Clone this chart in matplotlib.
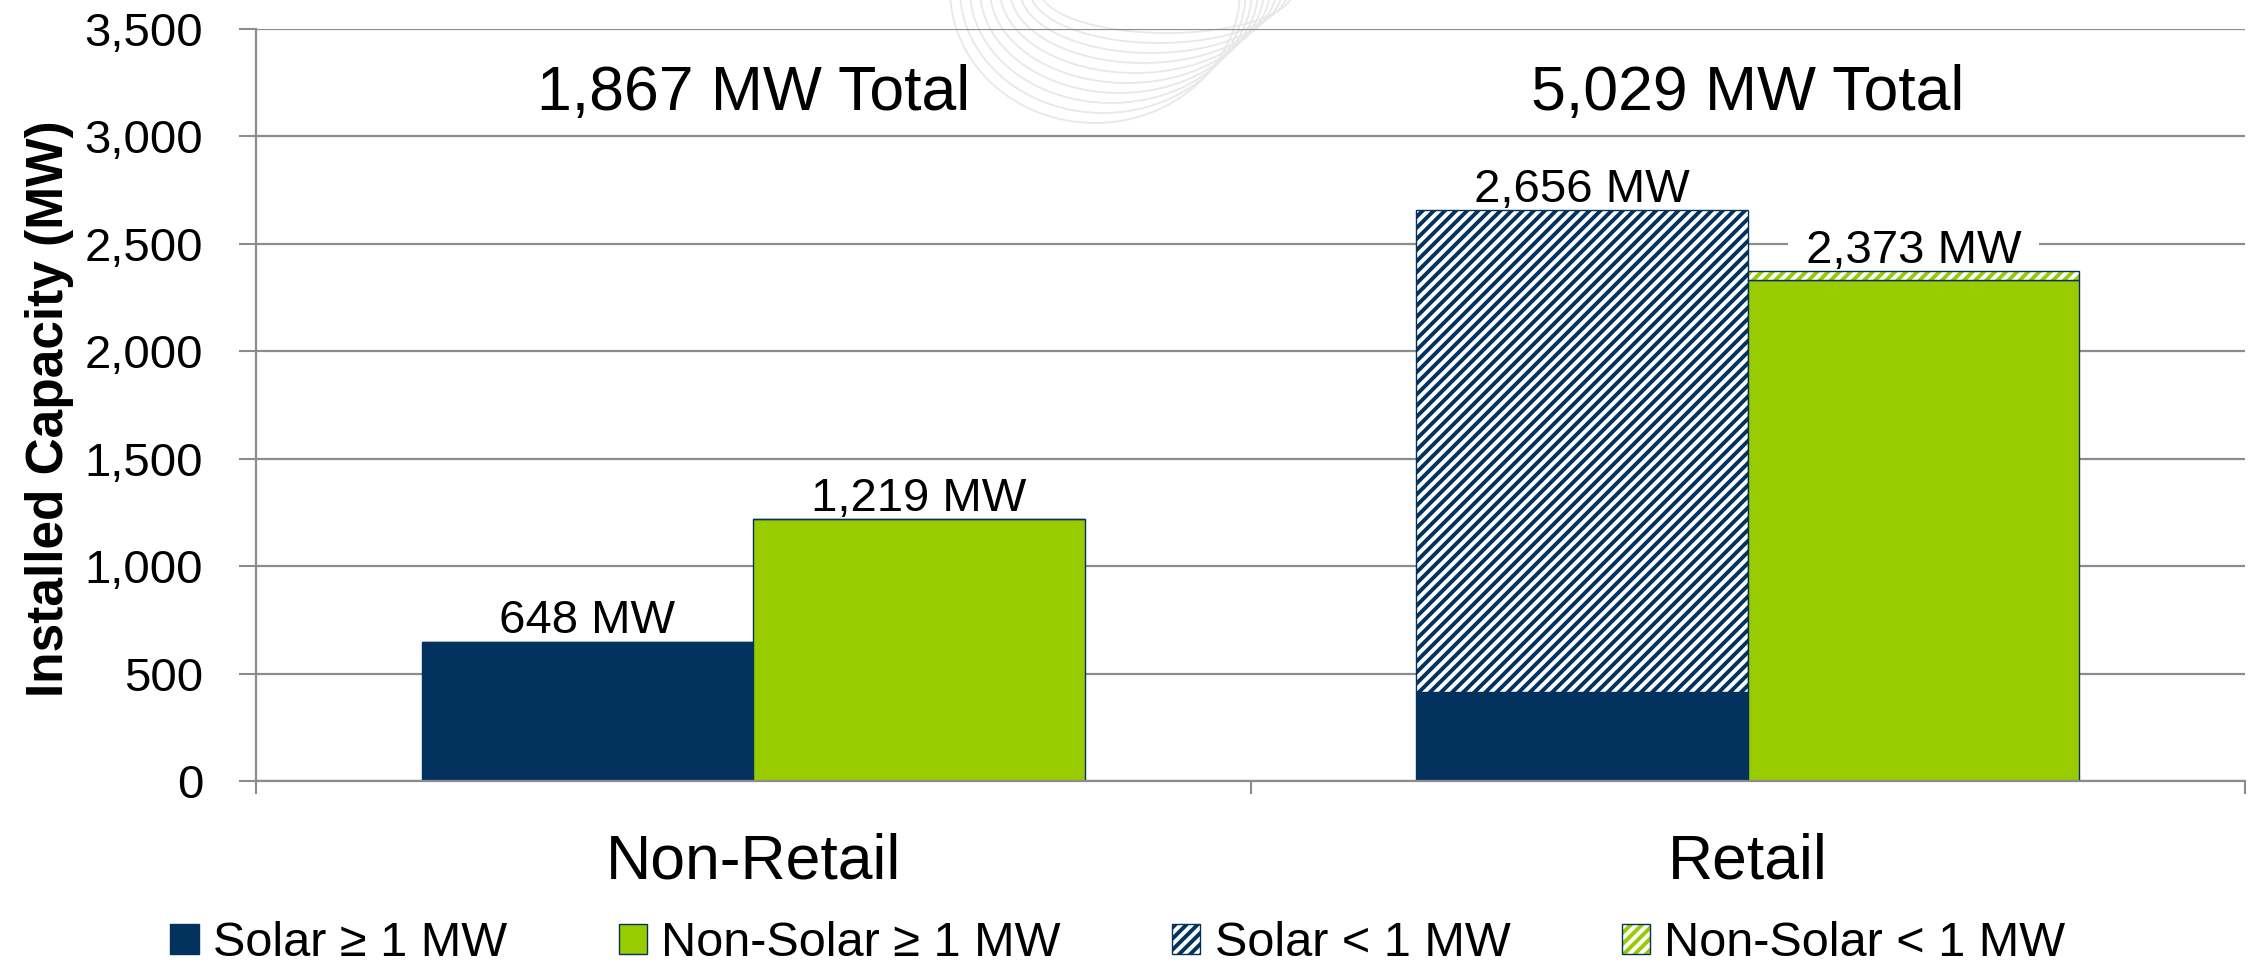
import matplotlib
matplotlib.use('Agg')
import matplotlib.pyplot as plt
from matplotlib.patches import Patch, Arc
import numpy as np

# ---------------- data ----------------
categories = ['Non-Retail', 'Retail']
solar_ge1 = [648, 414]
solar_lt1 = [0, 2242]
nonsolar_ge1 = [1219, 2330]
nonsolar_lt1 = [0, 43]
solar_labels = ['648 MW', '2,656 MW']
nonsolar_labels = ['1,219 MW', '2,373 MW']
total_labels = ['1,867 MW Total', '5,029 MW Total']
total_label_y = 3122
yticks = [0, 500, 1000, 1500, 2000, 2500, 3000, 3500]
ytick_labels = ['0', '500', '1,000', '1,500', '2,000', '2,500', '3,000', '3,500']
legend_labels = ['Solar \u2265 1 MW', 'Non-Solar \u2265 1 MW', 'Solar < 1 MW', 'Non-Solar < 1 MW']
ylabel = 'Installed Capacity (MW)'

# ---------------- style ----------------
NAVY = '#03325f'
GREEN = '#99cc00'
GRID = '#8c8c8c'
plt.rcParams['font.family'] = ['Liberation Sans', 'DejaVu Sans']
plt.rcParams['hatch.linewidth'] = 2.8

W, H = 2252, 973
fig = plt.figure(figsize=(W / 100, H / 100), dpi=100)
fig.patch.set_facecolor('white')

# faint watermark arcs (background decoration)
bg = fig.add_axes([0, 0, 1, 1], zorder=-1)
bg.set_xlim(0, W)
bg.set_ylim(H, 0)
bg.axis('off')
for i in range(10):
    yb = 123 - 10 * i
    xb = 1095 + 8 * i
    a = 145 - 2 * i
    cy = -10
    bg.add_patch(Arc((xb, cy), 2 * a, 2 * (yb - cy), theta1=0, theta2=180,
                     color='#e8e8e8', lw=1.3))

ax = fig.add_axes([256 / W, 1 - 781 / H, (2245 - 256) / W, (781 - 28.7) / H])
ax.set_facecolor('none')

x = np.arange(len(categories))
w = 1 / 3
xs = x - w / 2
xn = x + w / 2

ax.bar(xs, solar_ge1, w, color=NAVY, edgecolor=NAVY, lw=1, zorder=2)
ax.bar(xs, solar_lt1, w, bottom=solar_ge1, facecolor='white', edgecolor=NAVY,
       hatch='///', lw=1, zorder=2)
ax.bar(xn, nonsolar_ge1, w, color=GREEN, edgecolor=NAVY, lw=1, zorder=2)
ax.bar(xn, nonsolar_lt1, w, bottom=nonsolar_ge1, facecolor='white', edgecolor=GREEN,
       hatch='///', lw=0, zorder=2)
ax.bar(xn, nonsolar_lt1, w, bottom=nonsolar_ge1, facecolor='none', edgecolor=NAVY,
       lw=1, zorder=2.1)

solar_tot = np.array(solar_ge1) + np.array(solar_lt1)
nonsolar_tot = np.array(nonsolar_ge1) + np.array(nonsolar_lt1)
box = dict(boxstyle='square,pad=0.1', facecolor='white', edgecolor='none')
for i in range(len(categories)):
    ax.annotate(' ' + solar_labels[i] + ' ', (xs[i], solar_tot[i]), xytext=(0, 6),
                textcoords='offset points', ha='center', va='baseline',
                fontsize=34, bbox=box, zorder=1.5)
    ax.annotate(' ' + nonsolar_labels[i] + ' ', (xn[i], nonsolar_tot[i]), xytext=(0, 6),
                textcoords='offset points', ha='center', va='baseline',
                fontsize=34, bbox=box, zorder=1.5)
    ax.text(x[i], total_label_y, total_labels[i], ha='center', va='baseline',
            fontsize=45, zorder=3)

ax.set_xlim(-0.5, 1.5)
ax.set_ylim(0, 3500)
ax.set_yticks(yticks)
ax.set_yticklabels(ytick_labels)
ax.set_xticks(x)
ax.set_xticklabels(categories)
ax.set_xticks([-0.5, 0.5, 1.5], minor=True)
ax.tick_params(axis='x', which='major', length=0, pad=37, labelsize=45)
ax.tick_params(axis='x', which='minor', length=9, width=1.5, color=GRID)
ax.tick_params(axis='y', length=12, width=1.5, color=GRID, pad=26, labelsize=34)
ax.set_axisbelow(True)
ax.yaxis.grid(True, color=GRID, lw=1.6)
for s in ['top', 'right']:
    ax.spines[s].set_visible(False)
for s in ['left', 'bottom']:
    ax.spines[s].set_color(GRID)
    ax.spines[s].set_linewidth(1.6)

fig.text(50 / W, 1 - 409 / H, ylabel, rotation=90, ha='center', va='center',
         fontsize=37, fontweight='bold')

handles = [
    Patch(facecolor=NAVY, edgecolor=NAVY),
    Patch(facecolor=GREEN, edgecolor=NAVY),
    Patch(facecolor='white', edgecolor=NAVY, hatch='///'),
    (Patch(facecolor='white', edgecolor=GREEN, hatch='///', lw=0),
     Patch(facecolor='none', edgecolor=NAVY)),
]
fig.legend(handles, legend_labels, loc='center', bbox_to_anchor=(1118 / W, 1 - 944 / H),
           ncol=4, frameon=False, fontsize=35, handlelength=0.58, handleheight=0.58,
           handletextpad=0.29, columnspacing=2.3, borderaxespad=0, borderpad=0)

fig.savefig('out.png', dpi=100, facecolor='white')
